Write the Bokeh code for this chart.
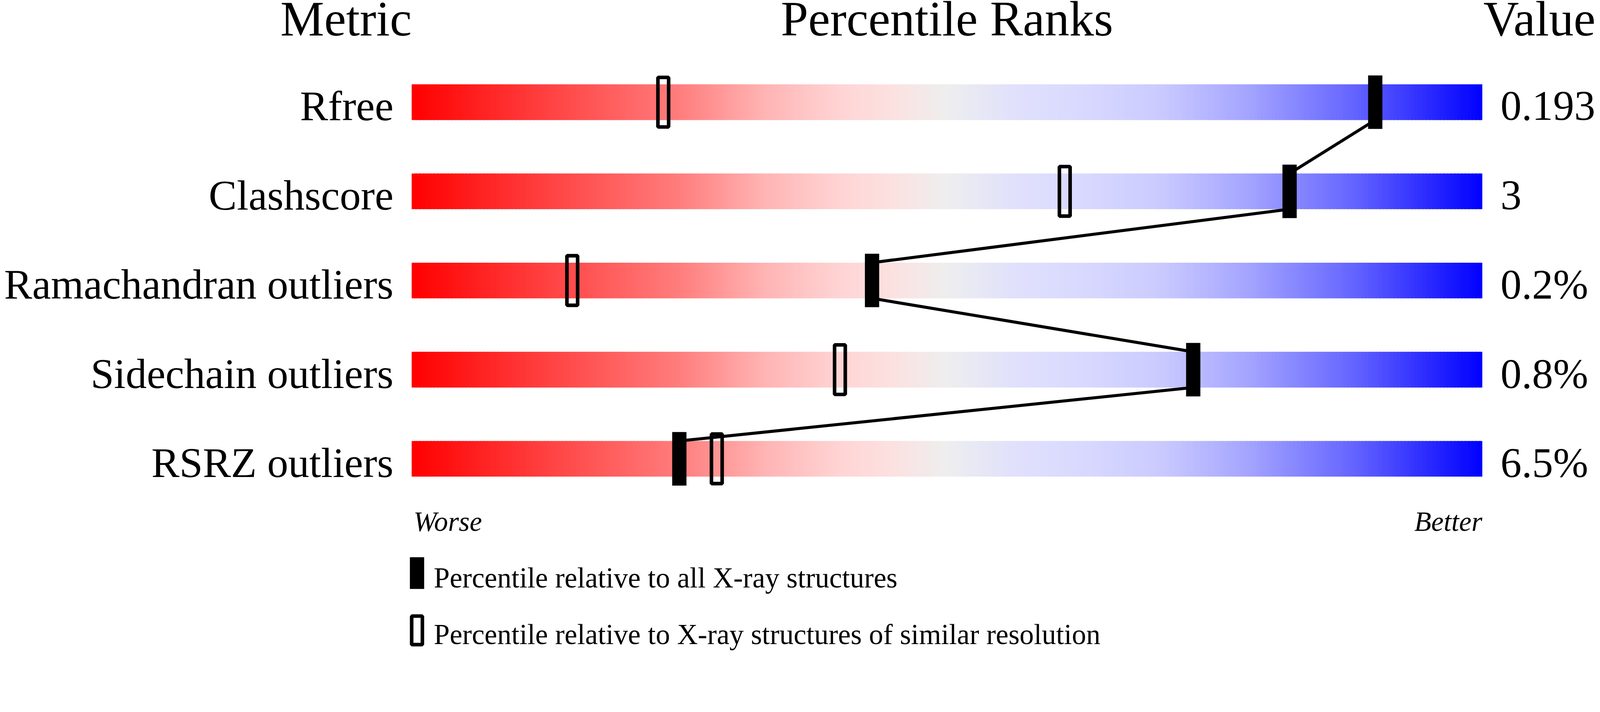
from bokeh.plotting import figure
from bokeh.models import Range1d
from bokeh.core.properties import value
from bokeh.embed import file_html
from bokeh.resources import INLINE

# ---- data ----
metrics = ["Rfree", "Clashscore", "Ramachandran outliers", "Sidechain outliers", "RSRZ outliers"]
metric_values = ["0.193", "3", "0.2%", "0.8%", "6.5%"]
pct_all = [90, 82, 43, 73, 25]            # percentile relative to all X-ray structures
pct_similar = [23.5, 61, 15, 40, 28.5]    # percentile relative to similar resolution
headers = ["Metric", "Percentile Ranks", "Value"]
legend_labels = ["Percentile relative to all X-ray structures",
                 "Percentile relative to X-ray structures of similar resolution"]

# ---- layout / style (reference pixels, converted by K) ----
K = 0.9136              # css px per reference px
FONT = value("Liberation Serif")
BASE_SHIFT = 0.33       # correction of text baseline placement (em)
REF_X0 = 1153.0         # reference x of percentile 0
REF_PX_PER_PCT = 30.0
REF_Y0 = 286.0          # reference y of first row centre
REF_PX_PER_ROW = 250.0
W = 4097
H = 1666

def dx(ref):  # reference pixel -> data x
    return (ref - REF_X0) / REF_PX_PER_PCT

def dy(ref):  # reference pixel -> data y
    return (ref - REF_Y0) / REF_PX_PER_ROW

def fpx(ref_font):
    return "%.2fpx" % (ref_font * K)

def yoff(ref_font):
    return -BASE_SHIFT * ref_font * K

p = figure(width=W, height=H,
           x_range=Range1d(dx(0), dx(W / K)),
           y_range=Range1d(dy(H / K), dy(0)),
           output_backend="svg", toolbar_location=None, min_border=0)
p.axis.visible = False
p.grid.visible = False
p.outline_line_color = None
p.background_fill_color = "white"
p.border_fill_color = "white"

rows = list(range(len(metrics)))
half = 50.0 / REF_PX_PER_ROW   # half bar height (data units)

# gradient colour stops (position 0..1, rgb)
stops = [
    (0.00, (255, 0, 0)),
    (0.12, (255, 62, 62)),
    (0.25, (255, 125, 125)),
    (0.33, (255, 180, 180)),
    (0.40, (255, 212, 212)),
    (0.45, (252, 225, 225)),
    (0.50, (238, 238, 238)),
    (0.56, (225, 225, 252)),
    (0.63, (216, 216, 255)),
    (0.70, (202, 202, 255)),
    (0.78, (165, 165, 255)),
    (0.88, (100, 100, 255)),
    (1.00, (0, 0, 255)),
]

def grad(t):
    for (t0, c0), (t1, c1) in zip(stops[:-1], stops[1:]):
        if t0 <= t <= t1:
            f = (t - t0) / (t1 - t0) if t1 > t0 else 0
            r, g, b = (int(round(a + (bb - a) * f)) for a, bb in zip(c0, c1))
            return "#%02x%02x%02x" % (r, g, b)
    return "#0000ff"

N = 300
lefts, rights, tops, bottoms, cols = [], [], [], [], []
for r in rows:
    for k in range(N):
        lefts.append(100.0 * k / N)
        rights.append(min(100.0, 100.0 * (k + 1) / N + 0.2))
        tops.append(r - half)
        bottoms.append(r + half)
        cols.append(grad((k + 0.5) / N))
p.quad(left=lefts, right=rights, top=tops, bottom=bottoms, fill_color=cols, line_color=None)

# connecting line: bar bottom of one row to bar top of the next
p.segment(x0=pct_all[:-1], y0=[r + half for r in rows[:-1]],
          x1=pct_all[1:], y1=[r + 1 - half for r in rows[:-1]],
          line_color="black", line_width=8.5 * K)

# open markers (similar resolution) and filled markers (all structures)
p.rect(x=pct_similar, y=rows, width=30 * K, height=139 * K,
       width_units="screen", height_units="screen",
       fill_alpha=0, line_color="black", line_width=10 * K)
p.rect(x=pct_all, y=rows, width=40 * K, height=150 * K,
       width_units="screen", height_units="screen",
       fill_color="black", line_color=None)

# row labels and values
p.text(x=[0] * len(rows), y=[r + half for r in rows], text=metrics,
       x_offset=-51 * K, y_offset=yoff(118),
       text_align="right", text_baseline="alphabetic", text_font=FONT,
       text_font_size=fpx(118), text_color="black")
p.text(x=[100] * len(rows), y=[r + half for r in rows], text=metric_values,
       x_offset=51 * K, y_offset=yoff(118),
       text_align="left", text_baseline="alphabetic", text_font=FONT,
       text_font_size=fpx(118), text_color="black")

# headers
hy = dy(98)
p.text(x=[0, 50, 100], y=[hy] * 3, text=headers,
       x_offset=[0, 0, 3 * K], y_offset=yoff(138),
       text_align=["right", "center", "left"], text_baseline="alphabetic",
       text_font=FONT, text_font_size=fpx(138), text_color="black")

# worse / better
wy = dy(1487)
p.text(x=[0, 100], y=[wy, wy], text=["Worse", "Better"],
       x_offset=[5 * K, 0], y_offset=yoff(78),
       text_align=["left", "right"], text_baseline="alphabetic", text_font=FONT,
       text_font_style="italic", text_font_size=fpx(78), text_color="black")

# legend
p.rect(x=[dx(1168)], y=[dy(1606.5)], width=40 * K, height=89 * K,
       width_units="screen", height_units="screen", fill_color="black", line_color=None)
p.rect(x=[dx(1168)], y=[dy(1767)], width=30 * K, height=80 * K,
       width_units="screen", height_units="screen",
       fill_alpha=0, line_color="black", line_width=10 * K)
p.text(x=[dx(1215)] * 2, y=[dy(1646), dy(1805)], text=legend_labels,
       y_offset=yoff(80),
       text_align="left", text_baseline="alphabetic", text_font=FONT,
       text_font_size=fpx(80), text_color="black")

open("out.html", "w").write(file_html(p, INLINE))
